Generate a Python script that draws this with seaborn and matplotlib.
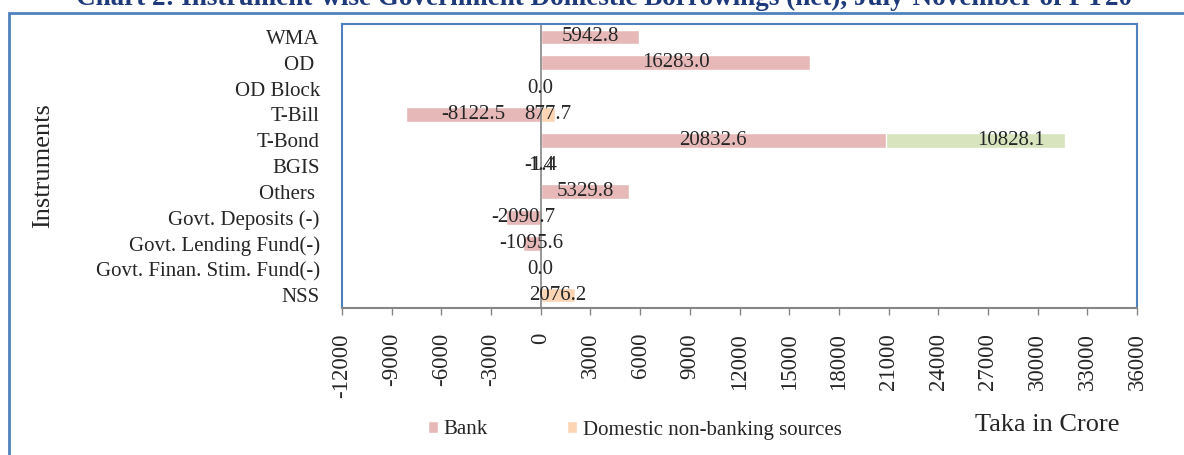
import matplotlib
matplotlib.use('Agg')
import matplotlib.pyplot as plt
from matplotlib.patches import Patch, Rectangle
import pandas as pd
import seaborn as sns

# Dados (Taka em crore)
instrumentos = ['WMA', 'OD ', 'OD Block', 'T-Bill', 'T-Bond', 'BGIS', 'Others ',
                'Govt. Deposits (-)', 'Govt. Lending Fund(-)',
                'Govt. Finan. Stim. Fund(-)', 'NSS']
banco = [5942.8, 16283.0, 0.0, -8122.5, 20832.6, -1.4, 5329.8,
         -2090.7, -1095.6, 0.0, None]
nao_banco = [None, None, None, 877.7, None, 1.4, None, None, None, None, 2076.2]
outros = [None, None, None, None, 10828.1, None, None, None, None, None, None]

cor_banco = '#E6B9B8'
cor_nao_banco = '#FCD5B5'
cor_outros = '#D7E4BD'
azul = '#4F81BD'
cinza = '#868686'

df = pd.DataFrame({'Instrumento': instrumentos, 'Banco': banco,
                   'NaoBanco': nao_banco, 'Outros': outros})

sns.set_style('white')
plt.rcParams['font.family'] = ['Liberation Serif', 'DejaVu Serif']
plt.rcParams['axes.unicode_minus'] = False

fig = plt.figure(figsize=(11.84, 4.55), dpi=100)
ax = fig.add_axes([342 / 1184, 1 - 308 / 455, 795 / 1184, 284 / 455])

# barra verde empilhada depois do banco (desenhada por baixo com o total)
df_out = df.dropna(subset=['Outros']).copy()
df_out['Total'] = df_out['Banco'] + df_out['Outros']
sns.barplot(data=df_out, x='Total', y='Instrumento', order=instrumentos, orient='h',
            color=cor_outros, saturation=1, width=0.57, errorbar=None, ax=ax)

df_b = df.dropna(subset=['Banco'])
sns.barplot(data=df_b, x='Banco', y='Instrumento', order=instrumentos, orient='h',
            color=cor_banco, saturation=1, width=0.57, errorbar=None, ax=ax)

df_nb = df.dropna(subset=['NaoBanco'])
sns.barplot(data=df_nb, x='NaoBanco', y='Instrumento', order=instrumentos, orient='h',
            color=cor_nao_banco, saturation=1, width=0.57, errorbar=None, ax=ax)

# rótulos de dados no centro de cada segmento
pos = {nome: i for i, nome in enumerate(instrumentos)}
for _, r in df_b.iterrows():
    ax.text(r['Banco'] / 2, pos[r['Instrumento']], f"{r['Banco']:.1f}",
            ha='center', va='center', fontsize=15)
for _, r in df_nb.iterrows():
    ax.text(r['NaoBanco'] / 2, pos[r['Instrumento']], f"{r['NaoBanco']:.1f}",
            ha='center', va='center', fontsize=15)
for _, r in df_out.iterrows():
    ax.text(r['Banco'] + r['Outros'] * 0.7, pos[r['Instrumento']], f"{r['Outros']:.1f}",
            ha='center', va='center', fontsize=15)

ax.axvline(0, color=cinza, lw=1.2, zorder=1)

ax.set_xlim(-12000, 36000)
ax.set_ylim(len(instrumentos) - 0.5, -0.5)
ax.set_xticks(range(-12000, 36001, 3000))
ax.set_xlabel('')
ax.tick_params(axis='x', bottom=True, length=5, width=1, color=cinza, pad=13,
               labelrotation=90, labelsize=16.5)
ax.tick_params(axis='y', left=False, length=0, pad=16, labelsize=15)
for lado in ['left', 'top', 'right']:
    ax.spines[lado].set_color(azul)
    ax.spines[lado].set_linewidth(1.5)
ax.spines['bottom'].set_color(cinza)
ax.spines['bottom'].set_linewidth(1.5)

ax.set_ylabel('Instruments', fontsize=19)
ax.yaxis.set_label_coords((54 - 342) / 795, 0.5)

# legenda e textos
handles = [Patch(facecolor=cor_banco, label='Bank'),
           Patch(facecolor=cor_nao_banco, label='Domestic non-banking sources')]
fig.legend(handles=handles, loc='center left', bbox_to_anchor=(428 / 1184, 1 - 430 / 455),
           ncol=2, frameon=False, fontsize=15, handlelength=0.5, handleheight=0.5,
           handletextpad=0.25, columnspacing=3.8, borderpad=0, borderaxespad=0)
fig.text(975 / 1184, 1 - 431 / 455, 'Taka in Crore', fontsize=19, va='baseline')

fig.text(0.51, 1 - 5 / 455,
         'Chart 2: Instrument-wise Government Domestic Borrowings (net), July-November of FY20',
         ha='center', va='baseline', fontsize=19.5, fontweight='bold', color='#1F3A7A')

# moldura externa
fig.add_artist(Rectangle((9 / 1184, -0.2), 2, 1.2 - 13 / 455, transform=fig.transFigure,
                         fill=False, edgecolor=azul, lw=2, clip_on=False))

plt.savefig('out.png', dpi=100)
